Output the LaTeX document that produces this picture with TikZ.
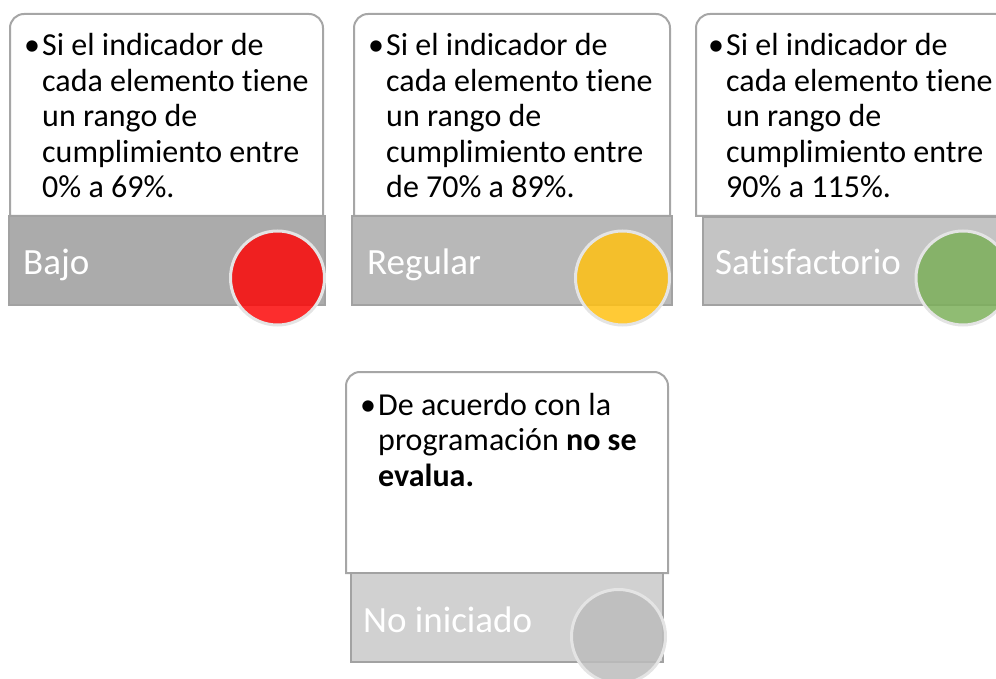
\documentclass[tikz,border=0pt]{standalone}
\usepackage{fontspec}
\setmainfont{Carlito}[Ligatures=NoCommon]
\definecolor{panelline}{HTML}{A6A6A6}
\definecolor{barline}{HTML}{A2A2A2}
\definecolor{barone}{HTML}{ABABAB}
\definecolor{bartwo}{HTML}{B8B8B8}
\definecolor{barthree}{HTML}{C4C4C4}
\definecolor{barfour}{HTML}{D1D1D1}
\definecolor{lampring}{HTML}{E4E4E4}
\definecolor{lampred}{RGB}{252,8,8}
\definecolor{lampyellow}{RGB}{255,193,19}
\definecolor{lampgreen}{RGB}{124,176,90}
\definecolor{lampgray}{RGB}{188,188,188}
\newcommand\bodytext{\fontsize{32}{35.5}\selectfont}
\newcommand\leveltext{\fontsize{37}{44}\selectfont}
\newcommand\bul[1]{\makebox[18pt][l]{\textbullet}\begin{tabular}[t]{@{}l@{}}#1\end{tabular}}
\tikzset{
  panel/.style={draw=panelline, line width=2pt, fill=white},
  bar/.style={draw=barline, line width=2pt},
  desc/.style={anchor=base west, inner sep=0pt, font=\bodytext},
  level/.style={anchor=base west, inner sep=0pt, text=white, font=\leveltext},
  lamp/.style={circle, inner sep=0pt, minimum size=94pt, draw=lampring, line width=3pt, fill opacity=0.85}
}
\begin{document}
\begin{tikzpicture}[x=1pt,y=-1pt]
  \clip (0,0) rectangle (996,679);
  % upper row
  \draw[panel] (10,216) [rounded corners=14pt] -- (10,14) -- (323,14) [sharp corners] -- (323,216) -- cycle;
  \draw[panel] (354,216) [rounded corners=14pt] -- (354,14) -- (670,14) [sharp corners] -- (670,216) -- cycle;
  \draw[panel] (696,216) [rounded corners=14pt] -- (696,14) -- (1010,14) [sharp corners] -- (1010,216) -- cycle;
  \draw[bar, fill=barone] (9,216) rectangle (325,305);
  \draw[bar, fill=bartwo] (352,216) rectangle (672,305);
  \draw[bar, fill=barthree] (703,217) rectangle (1012,305);
  \node[desc] (t1) at (24,56) {\bul{Si el indicador de\\cada elemento tiene\\un rango de\\cumplimiento entre\\0\% a 69\%.}};
  \node[desc] (t2) at (368,56) {\bul{Si el indicador de\\cada elemento tiene\\un rango de\\cumplimiento entre\\de 70\% a 89\%.}};
  \node[desc] (t3) at (708,56) {\bul{Si el indicador de\\cada elemento tiene\\un rango de\\cumplimiento entre\\90\% a 115\%.}};
  \node[level] (l1) at (23,274) {Bajo};
  \node[level] (l2) at (367,274) {Regular};
  \node[level] (l3) at (715,274) {Satisfactorio};
  \node[lamp, fill=lampred] (c1) at (277.5,278) {};
  \node[lamp, fill=lampyellow] (c2) at (622.5,278) {};
  \node[lamp, fill=lampgreen] (c3) at (963,278) {};
  % lower box
  \draw[panel] (346,573) [rounded corners=14pt] -- (346,372) -- (668,372) [sharp corners] -- (668,573) -- cycle;
  \draw[bar, fill=barfour] (351,573) rectangle (663,662);
  \node[desc] (t4) at (360,415) {\bul{De acuerdo con la\\programación \textbf{no se}\\\textbf{evalua.}}};
  \node[level] (l4) at (363,632) {No iniciado};
  \node[lamp, fill=lampgray] (c4) at (618.5,636.5) {};
\end{tikzpicture}
\end{document}
